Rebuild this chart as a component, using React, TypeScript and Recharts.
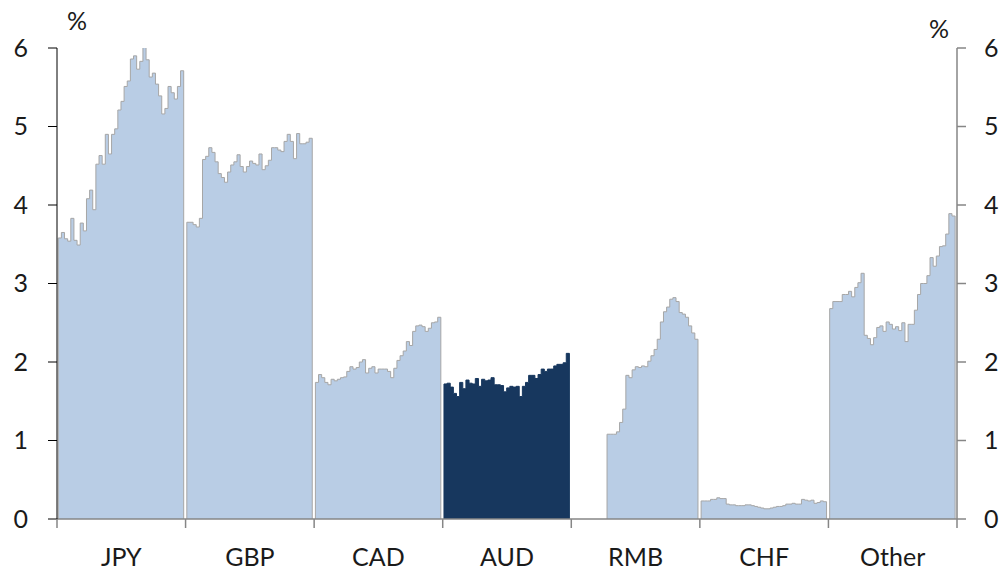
import React from 'react'
import { ComposedChart, Area, XAxis, YAxis } from 'recharts'

const CATEGORIES = ['JPY', 'GBP', 'CAD', 'AUD', 'RMB', 'CHF', 'Other']
const JPY = [3.58, 3.65, 3.57, 3.54, 3.83, 3.55, 3.49, 3.77, 3.67, 4.08, 4.19, 3.94, 4.52, 4.63, 4.52, 4.9, 4.65, 4.9, 4.97, 5.21, 5.32, 5.51, 5.58, 5.86, 5.9, 5.73, 5.83, 6.02, 5.85, 5.63, 5.68, 5.54, 5.39, 5.16, 5.23, 5.51, 5.43, 5.35, 5.51, 5.71]
const GBP = [3.78, 3.78, 3.75, 3.72, 3.83, 4.58, 4.62, 4.73, 4.67, 4.55, 4.4, 4.35, 4.29, 4.42, 4.51, 4.55, 4.64, 4.49, 4.42, 4.49, 4.56, 4.53, 4.51, 4.65, 4.45, 4.5, 4.57, 4.73, 4.73, 4.7, 4.68, 4.81, 4.9, 4.81, 4.59, 4.91, 4.78, 4.78, 4.8, 4.85]
const CAD = [1.74, 1.84, 1.8, 1.74, 1.71, 1.78, 1.76, 1.78, 1.8, 1.81, 1.88, 1.94, 1.91, 1.93, 2.0, 2.03, 1.86, 1.92, 1.94, 1.86, 1.91, 1.91, 1.91, 1.88, 1.8, 1.92, 2.02, 2.08, 2.14, 2.26, 2.21, 2.39, 2.46, 2.47, 2.45, 2.39, 2.43, 2.5, 2.51, 2.57]
const AUD = [1.72, 1.73, 1.68, 1.6, 1.56, 1.74, 1.66, 1.77, 1.73, 1.72, 1.79, 1.69, 1.78, 1.76, 1.77, 1.8, 1.71, 1.71, 1.7, 1.62, 1.67, 1.69, 1.68, 1.69, 1.56, 1.69, 1.74, 1.83, 1.83, 1.79, 1.84, 1.91, 1.88, 1.91, 1.91, 1.95, 1.97, 1.97, 1.99, 2.11]
const RMB = [1.08, 1.08, 1.08, 1.11, 1.23, 1.4, 1.83, 1.8, 1.9, 1.94, 1.93, 1.95, 1.94, 2.01, 2.08, 2.16, 2.29, 2.51, 2.64, 2.7, 2.8, 2.82, 2.77, 2.63, 2.61, 2.57, 2.46, 2.37, 2.29]
const CHF = [0.23, 0.23, 0.23, 0.25, 0.25, 0.27, 0.26, 0.26, 0.19, 0.18, 0.18, 0.17, 0.17, 0.17, 0.18, 0.18, 0.17, 0.16, 0.15, 0.14, 0.13, 0.13, 0.14, 0.15, 0.16, 0.16, 0.17, 0.19, 0.19, 0.2, 0.19, 0.19, 0.25, 0.24, 0.23, 0.24, 0.2, 0.21, 0.23, 0.22]
const OTHER = [2.68, 2.77, 2.77, 2.77, 2.86, 2.86, 2.9, 2.83, 2.95, 3.01, 3.13, 2.34, 2.3, 2.22, 2.31, 2.44, 2.46, 2.39, 2.51, 2.48, 2.42, 2.45, 2.4, 2.5, 2.26, 2.48, 2.48, 2.66, 2.86, 3.0, 3.0, 3.1, 3.33, 3.22, 3.35, 3.47, 3.48, 3.63, 3.89, 3.86]
const Y_TICKS = [0, 1, 2, 3, 4, 5, 6]

const SERIES = [JPY, GBP, CAD, AUD, RMB, CHF, OTHER]
const SLOTS = 41 // 40 quarters + gap
const OFF = 0.4
const LIGHT = '#b9cde5', DARK = '#17375e', EDGE = '#a6a6a6', GREY = '#868686'

// each group = its own key; zero points at both ends give the vertical edges
const rows: Record<string, number>[] = []
SERIES.forEach((vals, g) => {
  const key = CATEGORIES[g]
  const start = g * SLOTS + OFF + (40 - vals.length)
  rows.push({ x: start, [key]: 0 })
  vals.forEach((v, i) => rows.push({ x: start + i, [key]: v }))
  rows.push({ x: start + vals.length, [key]: vals[vals.length - 1] })
  rows.push({ x: start + vals.length, [key]: 0 })
})
const MAX_X = CATEGORIES.length * SLOTS
const BOUNDS = CATEGORIES.map((_, i) => i * SLOTS).concat([MAX_X])
const CENTERS = CATEGORIES.map((_, i) => i * SLOTS + SLOTS / 2)
const X_TICKS = [...BOUNDS, ...CENTERS].sort((a, b) => a - b)

const FONT = 'Lato, "Open Sans", sans-serif'
const TICK = { fontSize: 25, fill: '#1a1a1a', fontFamily: FONT }
const pct: React.CSSProperties = { position: 'absolute', fontSize: 25, lineHeight: '25px', fontFamily: FONT, color: '#1a1a1a' }
const TS = 9, TM = 20

// boundary ticks -> short grey mark, centre ticks -> category label
const XTick = (p: any) => {
  const v = p.payload.value
  const idx = CENTERS.indexOf(v)
  const y0 = p.y - TS - TM
  if (idx < 0) return <line x1={p.x} x2={p.x} y1={y0} y2={y0 + TS} stroke={GREY} strokeWidth={1.5} />
  return <text x={p.x} y={p.y} dy="0.71em" textAnchor="middle" {...TICK}>{CATEGORIES[idx]}</text>
}

export default function App() {
  return (
    <div style={{ position: 'absolute', left: 0, top: 0, width: 1001, height: 573, background: '#fff' }}>
      <ComposedChart width={1001} height={573} data={rows} margin={{ top: 48, right: 0, bottom: 0, left: 0 }}>
        <XAxis dataKey="x" type="number" domain={[0, MAX_X]} ticks={X_TICKS} interval={0} allowDataOverflow
          stroke={GREY} strokeWidth={1.5} tickLine={false} tickSize={TS} tickMargin={TM} height={54} tick={<XTick />} />
        <YAxis yAxisId="l" domain={[0, 6]} ticks={Y_TICKS} width={57} stroke="#000" tickSize={TS} tickMargin={20}
          tick={TICK} interval={0} allowDataOverflow />
        <YAxis yAxisId="r" orientation="right" domain={[0, 6]} ticks={Y_TICKS} width={44} stroke={GREY} strokeWidth={1.5}
          tickSize={TS} tickMargin={18} tick={TICK} interval={0} allowDataOverflow />
        {CATEGORIES.map(c => (
          <Area key={c} yAxisId="l" dataKey={c} type="stepAfter" isAnimationActive={false}
            fill={c === 'AUD' ? DARK : LIGHT} fillOpacity={1} stroke={c === 'AUD' ? DARK : EDGE} strokeWidth={1}
            dot={false} activeDot={false} connectNulls={false} />
        ))}
      </ComposedChart>
      <div style={{ ...pct, left: 67, top: 8 }}>%</div>
      <div style={{ ...pct, left: 929, top: 16 }}>%</div>
    </div>
  )
}
